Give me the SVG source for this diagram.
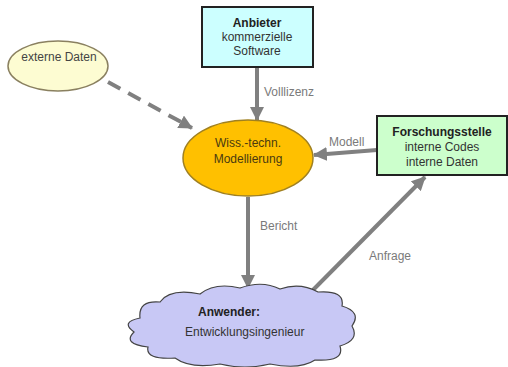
<svg xmlns="http://www.w3.org/2000/svg" width="508" height="367" viewBox="0 0 508 367">
<defs>
<style>
.t{font-family:"Liberation Sans",Arial,sans-serif;font-size:12px;}
.b{font-weight:bold;}
.lbl{font-family:"Liberation Sans",Arial,sans-serif;font-size:12px;fill:#7a7a7a;}
.ar{stroke:#808080;stroke-width:4;fill:none;}
</style>
<marker id="ah" markerUnits="userSpaceOnUse" markerWidth="14" markerHeight="14" viewBox="0 0 14 14" refX="13" refY="7" orient="auto">
<path d="M0,0 L14,7 L0,14 Z" fill="#808080"/>
</marker>
</defs>
<rect width="508" height="367" fill="#ffffff"/>
<g id="connectors">
<line class="ar" x1="257" y1="67" x2="257" y2="120" marker-end="url(#ah)"/>
<line class="ar" x1="377" y1="150" x2="314" y2="155" marker-end="url(#ah)"/>
<line class="ar" x1="108" y1="82" x2="192" y2="128" stroke-width="5" stroke-dasharray="14 9" marker-end="url(#ah)"/>
<line class="ar" x1="248" y1="197" x2="248" y2="288" marker-end="url(#ah)"/>
<line class="ar" x1="313" y1="290" x2="425" y2="177" marker-end="url(#ah)"/>
<text class="lbl" x="264" y="96">Volllizenz</text>
<text class="lbl" x="329" y="146">Modell</text>
<text class="lbl" x="260" y="230" fill="#666">Bericht</text>
<text class="lbl" x="369" y="260">Anfrage</text>
</g>
<g id="externe">
<ellipse cx="58" cy="66" rx="50" ry="25" fill="#fdfcd2" stroke="#8a8060" stroke-width="1.5"/>
<text class="t" x="59" y="61" text-anchor="middle" fill="#444">externe Daten</text>
</g>
<g id="anbieter">
<rect x="202" y="7" width="111" height="60" fill="#ccffff" stroke="#222" stroke-width="2"/>
<text class="t b" x="257" y="27" text-anchor="middle" fill="#222">Anbieter</text>
<text class="t" x="257" y="41" text-anchor="middle" fill="#333">kommerzielle</text>
<text class="t" x="257" y="55" text-anchor="middle" fill="#333">Software</text>
</g>
<g id="modellierung">
<ellipse cx="248" cy="158" rx="65" ry="38" fill="#ffc000" stroke="#a08020" stroke-width="1.5"/>
<text class="t" x="248" y="147" text-anchor="middle" fill="#4a3a10">Wiss.-techn.</text>
<text class="t" x="248" y="163" text-anchor="middle" fill="#4a3a10">Modellierung</text>
</g>
<g id="forschung">
<rect x="377" y="116" width="130" height="59" fill="#ccffcc" stroke="#222" stroke-width="2"/>
<text class="t b" x="442" y="136" text-anchor="middle" fill="#222">Forschungsstelle</text>
<text class="t" x="442" y="151" text-anchor="middle" fill="#333">interne Codes</text>
<text class="t" x="442" y="166" text-anchor="middle" fill="#333">interne Daten</text>
</g>
<g id="anwender">
<path d="M 140 318 Q 138 300 160 302 Q 170 288 200 294 Q 215 282 240 288 Q 262 280 280 289 Q 300 282 318 292 Q 345 290 342 306 Q 362 312 352 326 Q 360 340 340 346 Q 345 362 315 360 Q 300 370 270 364 Q 245 370 220 364 Q 190 369 175 358 Q 145 360 148 347 Q 122 344 134 332 Q 120 322 140 318 Z" fill="#c8c8f5" stroke="#444" stroke-width="1.2"/>
<text class="t b" x="198" y="316" fill="#222">Anwender:</text>
<text class="t" x="185" y="336" fill="#333">Entwicklungsingenieur</text>
</g>
</svg>
